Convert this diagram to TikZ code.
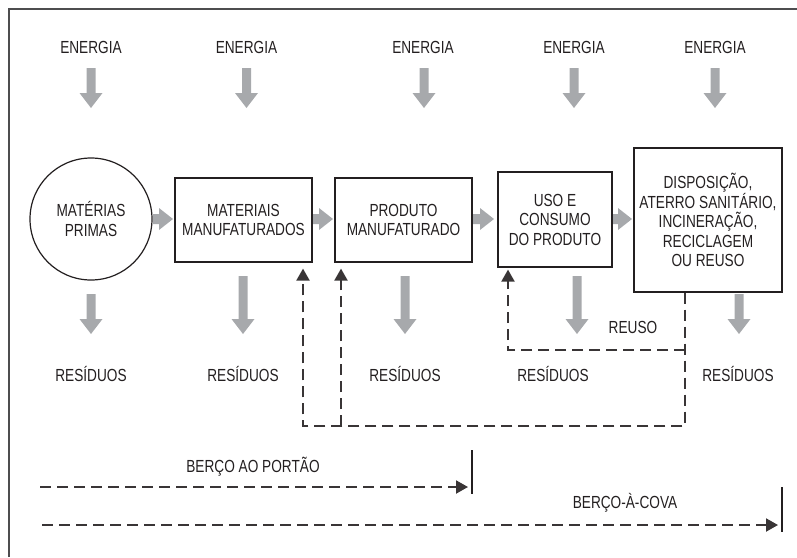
\documentclass[tikz,border=0pt]{standalone}
\usepackage{fontspec}
\setmainfont[FakeStretch=0.78]{Liberation Sans}
\usetikzlibrary{arrows.meta}
\definecolor{ink}{HTML}{231F20}
\definecolor{garr}{HTML}{A7A9AC}
\definecolor{frame}{HTML}{4D4D4F}
\newcommand{\garrowdown}[3]{\fill[garr] (#1-4.5,#2) -- (#1+4.5,#2) -- (#1+4.5,#3-15) -- (#1+11.5,#3-15) -- (#1,#3) -- (#1-11.5,#3-15) -- (#1-4.5,#3-15) -- cycle;}
\newcommand{\garrowright}[3]{\fill[garr] (#1,#3-5) -- (#2-14,#3-5) -- (#2-14,#3-11) -- (#2,#3) -- (#2-14,#3+11) -- (#2-14,#3+5) -- (#1,#3+5) -- cycle;}
\tikzset{
  lbl/.style={text=ink,font=\fontsize{17.5}{19.5}\selectfont,inner sep=0pt,anchor=base},
  stagebox/.style={draw=ink,line width=1.2pt,text=ink,font=\fontsize{17.5}{19.5}\selectfont,align=center,inner sep=0pt},
  dline/.style={draw=ink!90,line width=2pt,dash pattern=on 11pt off 6pt},
  tipend/.style={-{Triangle[length=12pt,width=13pt]}},
  barline/.style={draw=ink,line width=1.8pt}
}
\begin{document}
\begin{tikzpicture}[x=1pt,y=-1pt]
\useasboundingbox (0,0) rectangle (797,557);
% partial frame
\draw[frame,line width=1.5pt] (9,557) -- (9,9) -- (797,9);

% energy labels
\node[lbl] (e1) at (91,53) {ENERGIA};
\node[lbl] (e2) at (246.5,53) {ENERGIA};
\node[lbl] (e3) at (423,53) {ENERGIA};
\node[lbl] (e4) at (574,53) {ENERGIA};
\node[lbl] (e5) at (715,53) {ENERGIA};
\garrowdown{91}{68}{108}
\garrowdown{246.5}{68}{108}
\garrowdown{424}{68}{108}
\garrowdown{574}{68}{108}
\garrowdown{715}{68}{108}

% stages
\node[stagebox,circle,minimum size=122pt] (mp) at (91,219) {MATÉRIAS\\PRIMAS};
\node[stagebox,minimum width=137pt,minimum height=84pt] (mm) at (243.5,220) {MATERIAIS\\MANUFATURADOS};
\node[stagebox,minimum width=137pt,minimum height=84pt] (pm) at (403.5,220) {PRODUTO\\MANUFATURADO};
\node[stagebox,minimum width=114pt,minimum height=95pt] (uso) at (555,219.5) {USO E\\CONSUMO\\DO PRODUTO};
\node[stagebox,minimum width=148pt,minimum height=144pt] (disp) at (708,220) {DISPOSIÇÃO,\\ATERRO SANITÁRIO,\\INCINERAÇÃO,\\RECICLAGEM\\OU REUSO};

\garrowright{153}{173}{219}
\garrowright{313}{333}{219}
\garrowright{473}{494}{219}
\garrowright{613}{632}{219}

% waste
\garrowdown{91}{294}{334}
\garrowdown{243}{276}{334}
\garrowdown{405}{276}{334}
\garrowdown{577}{276}{334}
\garrowdown{739}{294}{334}
\node[lbl] (r1) at (91,381) {RESÍDUOS};
\node[lbl] (r2) at (243,381) {RESÍDUOS};
\node[lbl] (r3) at (405,381) {RESÍDUOS};
\node[lbl] (r4) at (553,381) {RESÍDUOS};
\node[lbl] (r5) at (738,381) {RESÍDUOS};

% reuse / recycling loops
\coordinate (fbR) at (685,426);
\coordinate (fbA) at (303,426);
\coordinate (fbB) at (341,426);
\coordinate (ru) at (508,350);
\draw[dline,tipend,shorten >=6pt] (disp.south -| fbR) -- (fbR) -- (fbA) -- (fbA |- mm.south);
\draw[dline,tipend,shorten >=6pt] (fbB) -- (fbB |- pm.south);
\draw[dline,tipend,shorten >=2pt] (ru -| fbR) -- (ru) -- (ru |- uso.south);
\node[lbl] (reuso) at (633,333) {REUSO};

% system boundaries
\node[lbl] (bap) at (253,472) {BERÇO AO PORTÃO};
\coordinate (g1t) at (472,450);
\coordinate (g1b) at (472,494);
\coordinate (s1) at (40,487);
\draw[barline] (g1t) -- (g1b);
\draw[dline,tipend,shorten >=4pt] (s1) -- (s1 -| g1t);

\node[lbl] (bac) at (625,508) {BERÇO-À-COVA};
\coordinate (g2t) at (782,487);
\coordinate (g2b) at (782,532);
\coordinate (s2) at (42,525);
\draw[barline] (g2t) -- (g2b);
\draw[dline,tipend,shorten >=4pt] (s2) -- (s2 -| g2t);
\end{tikzpicture}
\end{document}
